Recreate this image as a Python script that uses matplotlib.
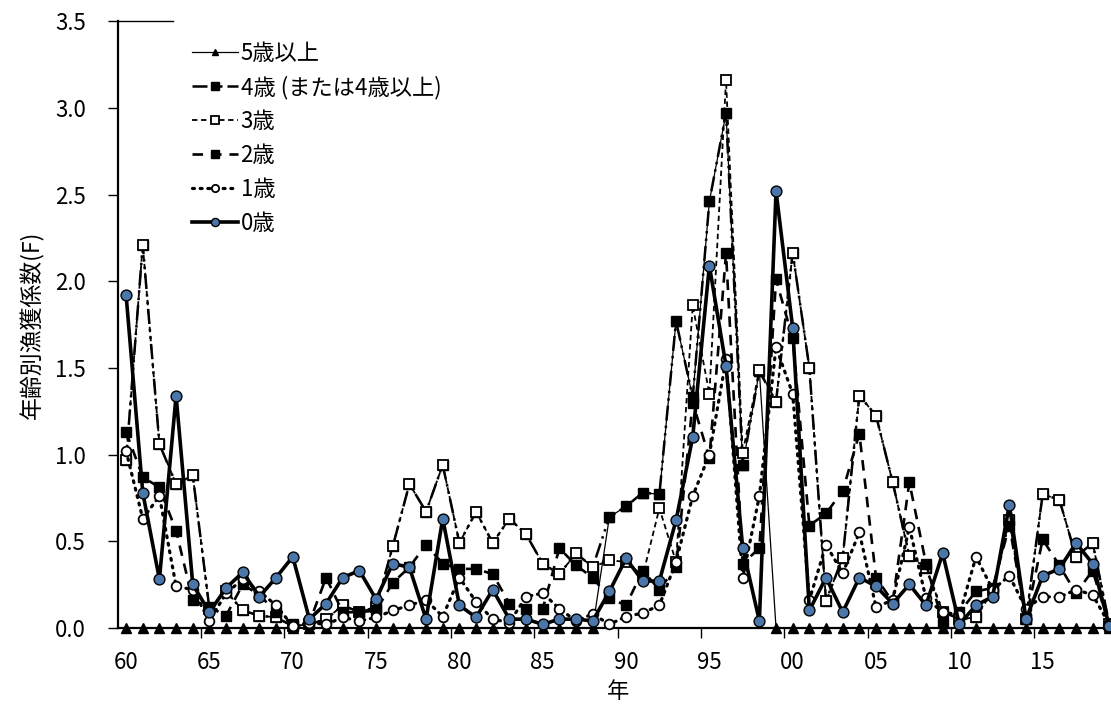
import numpy as np
import matplotlib
matplotlib.use("Agg")
import matplotlib.pyplot as plt

plt.rcParams['font.family'] = ['Noto Sans CJK JP', 'DejaVu Sans']

# 年 (1960-2019)
years = np.arange(1960, 2020)

# 年齢別漁獲係数 F
f_age0 = [1.92, 0.78, 0.28, 1.34, 0.25, 0.09, 0.23, 0.32, 0.18, 0.29,
          0.41, 0.05, 0.14, 0.29, 0.33, 0.165, 0.37, 0.35, 0.05, 0.63,
          0.13, 0.06, 0.22, 0.05, 0.05, 0.02, 0.05, 0.05, 0.04, 0.21,
          0.40, 0.27, 0.27, 0.62, 1.10, 2.09, 1.51, 0.46, 0.04, 2.52,
          1.73, 0.10, 0.29, 0.09, 0.29, 0.24, 0.14, 0.25, 0.13, 0.43,
          0.02, 0.13, 0.18, 0.71, 0.05, 0.30, 0.34, 0.49, 0.37, 0.01]

f_age1 = [1.02, 0.63, 0.76, 0.24, 0.22, 0.04, 0.20, 0.28, 0.21, 0.13,
          0.01, 0.03, 0.02, 0.06, 0.04, 0.06, 0.10, 0.13, 0.16, 0.065,
          0.29, 0.15, 0.05, 0.03, 0.18, 0.20, 0.11, 0.04, 0.08, 0.02,
          0.065, 0.085, 0.13, 0.38, 0.76, 1.00, 1.55, 0.29, 0.76, 1.62,
          1.35, 0.16, 0.48, 0.315, 0.55, 0.12, 0.16, 0.58, 0.17, 0.09,
          0.075, 0.41, 0.22, 0.30, 0.11, 0.18, 0.177, 0.22, 0.19, 0.02]

f_age2 = [1.13, 0.87, 0.81, 0.56, 0.16, 0.12, 0.07, 0.25, 0.19, 0.09,
          0.02, 0.03, 0.29, 0.09, 0.09, 0.10, 0.26, 0.35, 0.48, 0.37,
          0.34, 0.34, 0.31, 0.14, 0.11, 0.11, 0.46, 0.36, 0.29, 0.17,
          0.13, 0.33, 0.22, 0.35, 1.30, 0.98, 2.16, 0.37, 0.46, 2.01,
          1.67, 0.59, 0.66, 0.79, 1.12, 0.29, 0.15, 0.84, 0.37, 0.03,
          0.09, 0.21, 0.23, 0.59, 0.05, 0.51, 0.36, 0.20, 0.33, 0.01]

f_age3 = [0.97, 2.21, 1.06, 0.83, 0.88, 0.11, 0.21, 0.10, 0.07, 0.06,
          0.01, 0.02, 0.05, 0.13, 0.09, 0.12, 0.47, 0.83, 0.67, 0.94,
          0.49, 0.67, 0.49, 0.63, 0.54, 0.37, 0.31, 0.43, 0.35, 0.39,
          0.38, 0.30, 0.69, 0.38, 1.86, 1.35, 3.16, 1.01, 1.49, 1.305,
          2.165, 1.50, 0.155, 0.405, 1.34, 1.225, 0.84, 0.415, 0.345, 0.094,
          0.05, 0.06, 0.22, 0.62, 0.05, 0.77, 0.74, 0.41, 0.49, 0.02]

# 4歳 (1989-1998以外は4歳以上)
f_age4 = [0.97, 2.21, 1.06, 0.83, 0.88, 0.11, 0.21, 0.10, 0.07, 0.06,
          0.01, 0.02, 0.05, 0.13, 0.09, 0.12, 0.47, 0.83, 0.67, 0.94,
          0.49, 0.67, 0.49, 0.63, 0.54, 0.37, 0.31, 0.43, 0.35, 0.64,
          0.70, 0.78, 0.77, 1.77, 1.33, 2.46, 2.97, 0.94, 1.48, 1.305,
          2.165, 1.50, 0.155, 0.405, 1.34, 1.225, 0.84, 0.415, 0.345, 0.094,
          0.05, 0.06, 0.22, 0.62, 0.05, 0.77, 0.74, 0.41, 0.49, 0.02]

# 5歳以上 (1989-1998のみ)
f_age5 = [0.0] * 29 + [0.64, 0.70, 0.78, 0.77, 1.77, 1.33, 2.46, 2.97, 0.94, 1.48] + [0.0] * 21

tick_years = [1960, 1965, 1970, 1975, 1980, 1985, 1990, 1995, 2000, 2005, 2010, 2015]
tick_labels = ['60', '65', '70', '75', '80', '85', '90', '95', '00', '05', '10', '15']

fig = plt.figure(figsize=(11.11, 7.07), dpi=100)
ax = fig.add_axes([0.106, 0.112, 0.9, 0.858])

# 系列の定義 (凡例の順に描画、0歳が最前面)
series = [
    ('5歳以上', f_age5, dict(color='black', lw=0.9, ls='-', marker='^', ms=6.5,
                           mfc='black', mec='black')),
    ('4歳 (または4歳以上)', f_age4, dict(color='black', lw=1.8, ls=(0, (6, 2, 1, 2, 1, 2)),
                                 marker='s', ms=7, mfc='black', mec='black')),
    ('3歳', f_age3, dict(color='black', lw=1.3, ls=(0, (3, 2)), marker='s', ms=7,
                       mfc='white', mec='black', mew=1.3)),
    ('2歳', f_age2, dict(color='black', lw=1.9, ls=(0, (4, 3)), marker='s', ms=7,
                       mfc='black', mec='black')),
    ('1歳', f_age1, dict(color='black', lw=2.3, ls=(0, (0.6, 1.8)), marker='o', ms=7,
                       mfc='white', mec='black', mew=1.3, dash_capstyle='round')),
    ('0歳', f_age0, dict(color='black', lw=2.6, ls='-', marker='o', ms=7.8,
                       mfc='#4a76aa', mec='black', mew=1.0)),
]

for i, (name, vals, style) in enumerate(series):
    ax.plot(years, vals, label=name, zorder=3 + i, clip_on=False, **style)

ax.set_xlim(1959.5, 2019.5)
ax.set_ylim(0, 3.5)

ax.set_xticks(tick_years)
ax.set_xticklabels(tick_labels)
ax.set_xticks(np.arange(1964.5, 2020, 5), minor=True)
ax.tick_params(axis='x', which='major', length=0, pad=17, labelsize=16)
ax.tick_params(axis='x', which='minor', length=7, width=1, direction='out')

ax.set_yticks(np.arange(0, 3.51, 0.5))
ax.set_yticklabels([f'{v:.1f}' for v in np.arange(0, 3.51, 0.5)])
ax.tick_params(axis='y', length=7, width=1, direction='out', labelsize=16, pad=16)

for side in ['top', 'right']:
    ax.spines[side].set_visible(False)
ax.spines['left'].set_linewidth(1.6)
ax.spines['bottom'].set_linewidth(1.6)
ax.axhline(3.5, xmin=0, xmax=0.055, color='black', lw=1.0, clip_on=False)

ax.set_xlabel('年', fontsize=16, labelpad=4)
ax.set_ylabel('年齢別漁獲係数(F)', fontsize=16.5, labelpad=8)

ax.legend(loc='upper left', bbox_to_anchor=(0.065, 0.981), frameon=False,
          fontsize=16, handlelength=2.1, handletextpad=0.1, labelspacing=0.49,
          markerscale=0.75, borderaxespad=0)

fig.savefig('out.png', dpi=100)
